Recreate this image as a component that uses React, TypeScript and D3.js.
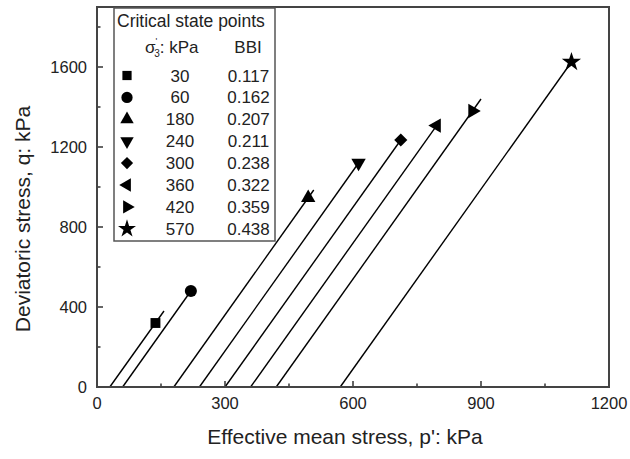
import React from "react";
import * as d3 from "d3";

// Confining pressure of each drained test (kPa) and its breakage index
const confining = [30, 60, 180, 240, 300, 360, 420, 570];
const bbiLabels = ["0.117", "0.162", "0.207", "0.211", "0.238", "0.322", "0.359", "0.438"];
// Critical state points (p', q) in kPa
const csP = [137, 220, 495, 613, 712, 796, 880, 1112];
const csQ = [320, 480, 946, 1120, 1235, 1307, 1380, 1625];
// Furthest point reached by each stress path (peak), kPa
const peakP = [157, 220, 508, 613, 712, 796, 900, 1112];
const peakQ = [380, 480, 985, 1120, 1235, 1307, 1440, 1625];

const xTicks = [0, 300, 600, 900, 1200];
const yTicks = [0, 400, 800, 1200, 1600];
const markerKinds = ["square", "circle", "up", "down", "diamond", "left", "right", "star"];

const W = 630;
const H = 459;
const margin = { left: 97, right: 21, top: 7, bottom: 72 };

const FONT = "'Liberation Sans', Arial, Helvetica, sans-serif";

function markerPath(kind: string, size: number): { d: string; rotate: number } {
  const tri = size * 0.78;
  switch (kind) {
    case "square":
      return { d: d3.symbol(d3.symbolSquare, size * 0.85)()!, rotate: 0 };
    case "circle":
      return { d: d3.symbol(d3.symbolCircle, size)()!, rotate: 0 };
    case "up":
      return { d: d3.symbol(d3.symbolTriangle, tri)()!, rotate: 0 };
    case "down":
      return { d: d3.symbol(d3.symbolTriangle, tri)()!, rotate: 180 };
    case "left":
      return { d: d3.symbol(d3.symbolTriangle, tri)()!, rotate: -90 };
    case "right":
      return { d: d3.symbol(d3.symbolTriangle, tri)()!, rotate: 90 };
    case "diamond":
      return { d: d3.symbol(d3.symbolSquare, size * 0.75)()!, rotate: 45 };
    default:
      return { d: d3.symbol(d3.symbolStar, size)()!, rotate: 0 };
  }
}

function Marker({ kind, x, y, size }: { kind: string; x: number; y: number; size: number }) {
  const m = markerPath(kind, size);
  return <path d={m.d} transform={`translate(${x},${y}) rotate(${m.rotate})`} fill="#000" />;
}

export default function App() {
  const x = d3.scaleLinear().domain([0, 1200]).range([margin.left, W - margin.right]);
  const y = d3.scaleLinear().domain([0, 1900]).range([H - margin.bottom, margin.top]);

  const xMinor = d3.range(150, 1200, 300);
  const yMinor = d3.range(200, 1900, 400);
  const line = d3.line<[number, number]>().x((d) => x(d[0])).y((d) => y(d[1]));

  const legX = 114;
  const legY = 8;
  const legW = 161;
  const legH = 233;
  const rowY0 = 75.5;
  const rowStep = 21.9;

  return (
    <svg width={W} height={H} style={{ position: "absolute", left: 0, top: 0, background: "#fff" }} fontFamily={FONT}>
      {/* stress paths */}
      {confining.map((s, i) => (
        <path
          key={"path" + s}
          d={line([[s, 0], [peakP[i], peakQ[i]]])!}
          stroke="#000"
          strokeWidth={1.4}
          fill="none"
        />
      ))}
      {/* critical state points */}
      {confining.map((s, i) => (
        <Marker key={"cs" + s} kind={markerKinds[i]} x={x(csP[i])} y={y(csQ[i])} size={115} />
      ))}

      {/* ticks (inward) */}
      {xTicks.map((t) => (
        <line key={"xt" + t} x1={x(t)} x2={x(t)} y1={y(0)} y2={y(0) - 6} stroke="#333" strokeWidth={1.5} />
      ))}
      {xMinor.map((t) => (
        <line key={"xm" + t} x1={x(t)} x2={x(t)} y1={y(0)} y2={y(0) - 3.5} stroke="#333" strokeWidth={1.5} />
      ))}
      {yTicks.map((t) => (
        <line key={"yt" + t} x1={x(0)} x2={x(0) + 6} y1={y(t)} y2={y(t)} stroke="#333" strokeWidth={1.5} />
      ))}
      {yMinor.map((t) => (
        <line key={"ym" + t} x1={x(0)} x2={x(0) + 3.5} y1={y(t)} y2={y(t)} stroke="#333" strokeWidth={1.5} />
      ))}

      {/* frame */}
      <rect
        x={x(0)}
        y={y(1900)}
        width={x(1200) - x(0)}
        height={y(0) - y(1900)}
        fill="none"
        stroke="#444"
        strokeWidth={2}
      />

      {/* tick labels */}
      {xTicks.map((t) => (
        <text key={"xl" + t} x={x(t)} y={y(0) + 22} textAnchor="middle" fontSize={16.5} fill="#222">
          {t}
        </text>
      ))}
      {yTicks.map((t) => (
        <text key={"yl" + t} x={x(0) - 10} y={y(t) + 6} textAnchor="end" fontSize={16.5} fill="#222">
          {t}
        </text>
      ))}

      {/* axis titles */}
      <text x={(x(0) + x(1200)) / 2 - 8} y={444} textAnchor="middle" fontSize={21} fill="#222">
        Effective mean stress, p': kPa
      </text>
      <text
        transform={`translate(30,${(y(0) + y(1900)) / 2 + 22}) rotate(-90)`}
        textAnchor="middle"
        fontSize={21}
        fill="#222"
      >
        Deviatoric stress, q: kPa
      </text>

      {/* legend */}
      <rect x={legX} y={legY} width={legW} height={legH} fill="#fff" stroke="#555" strokeWidth={1.5} />
      <text x={legX + 3} y={27} fontSize={17.5} fill="#222">
        Critical state points
      </text>
      <text x={145} y={53} fontSize={17} fill="#222">
        σ
        <tspan fontSize={9} dy={-9} dx={0}>'</tspan>
        <tspan fontSize={10} dy={13} dx={-3}>3</tspan>
        <tspan dy={-4}>: kPa</tspan>
      </text>
      <text x={248} y={53} fontSize={17} fill="#222" textAnchor="middle">
        BBI
      </text>
      {confining.map((s, i) => {
        const cy = rowY0 + i * rowStep;
        return (
          <g key={"leg" + s}>
            <Marker kind={markerKinds[i]} x={127} y={cy} size={100} />
            <text x={180} y={cy + 6} fontSize={17} textAnchor="middle" fill="#222">
              {s}
            </text>
            <text x={248.5} y={cy + 6} fontSize={17} textAnchor="middle" fill="#222">
              {bbiLabels[i]}
            </text>
          </g>
        );
      })}
    </svg>
  );
}
